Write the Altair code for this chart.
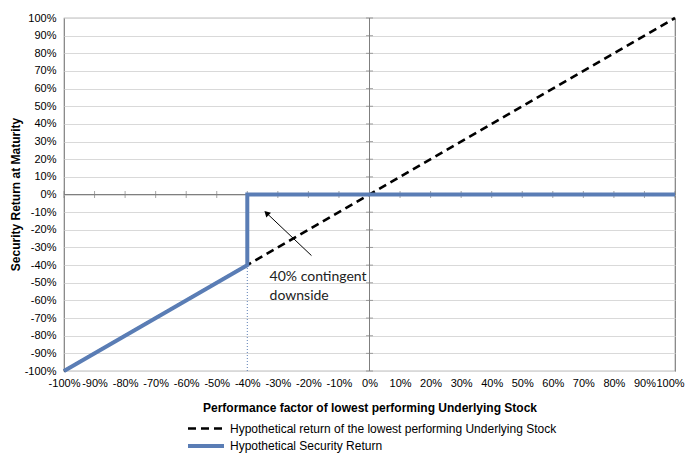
import altair as alt
import pandas as pd

S1 = "Hypothetical return of the lowest performing Underlying Stock"
S2 = "Hypothetical Security Return"

stock_x = [-1.0, 1.0]
stock_y = [-1.0, 1.0]
sec_x = [-1.0, -0.4, -0.4, 1.0]
sec_y = [-1.0, -0.4, 0.0, 0.0]
tick_vals = [-1.0, -0.9, -0.8, -0.7, -0.6, -0.5, -0.4, -0.3, -0.2, -0.1, 0.0,
             0.1, 0.2, 0.3, 0.4, 0.5, 0.6, 0.7, 0.8, 0.9, 1.0]
dotted_x = [-0.4, -0.4]
dotted_y = [-1.0, -0.4]
arrow_x = [-0.19, -0.337]
arrow_y = [-0.346, -0.105]
note_lines = ["40% contingent", "downside"]
note_x = [-0.327, -0.327]
note_y = [-0.47, -0.573]

BLUE = "#5a7db5"
GRAY = "#7f7f7f"
FONT = "Liberation Sans"
LABEL_EXPR = "round(datum.value * 100) + '%'"

lines = pd.DataFrame(
    [{"series": S1, "o": i, "x": a, "y": b} for i, (a, b) in enumerate(zip(stock_x, stock_y))]
    + [{"series": S2, "o": i, "x": a, "y": b} for i, (a, b) in enumerate(zip(sec_x, sec_y))]
)

xs = alt.Scale(domain=[-1, 1], nice=False, zero=False)
ys = alt.Scale(domain=[-1, 1], nice=False, zero=False)

color = alt.Color(
    "series:N",
    scale=alt.Scale(domain=[S1, S2], range=["#000000", BLUE]),
    legend=alt.Legend(
        title=None, orient="none", legendX=122, legendY=400, padding=0,
        symbolType="M-1,0H3", symbolSize=324, symbolStrokeWidth=3.5,
        labelFont=FONT, labelFontSize=12, labelColor="#000000", labelLimit=600,
        labelOffset=22, rowPadding=0, direction="vertical",
    ),
)
dash = alt.StrokeDash(
    "series:N",
    scale=alt.Scale(domain=[S1, S2], range=[[8, 5], [1, 0]]),
    legend=None,
)
width_enc = alt.StrokeWidth(
    "series:N",
    scale=alt.Scale(domain=[S1, S2], range=[2.6, 4]),
    legend=None,
)

x_axis = alt.Axis(
    values=tick_vals, labelExpr=LABEL_EXPR, grid=False, ticks=False, tickSize=0,
    domain=False, labelFont=FONT, labelFontSize=11, labelColor="#000000",
    labelPadding=6, labelFlush=False, labelOverlap=False,
    labelOffset={"condition": {"test": "datum.value >= 1", "value": -5}, "value": 0},
    title="Performance factor of lowest performing Underlying Stock",
    titleFont=FONT, titleFontSize=12, titleFontWeight="bold", titleColor="#000000",
    titlePadding=14,
)
y_axis = alt.Axis(
    values=tick_vals, labelExpr=LABEL_EXPR, grid=True, gridColor="#d9d9d9", gridWidth=1,
    ticks=False, tickSize=0, domain=False, labelFont=FONT, labelFontSize=11,
    labelColor="#000000", labelPadding=8, labelFlush=False, labelOverlap=False,
    title="Security Return at Maturity", titleFont=FONT, titleFontSize=12,
    titleFontWeight="bold", titleColor="#000000",
    titleX=-49, titleY=176, titleBaseline="middle", titleAlign="center", titleAngle=270,
)


def X():
    return alt.X("x:Q", scale=xs, axis=x_axis)


def Y():
    return alt.Y("y:Q", scale=ys, axis=y_axis)


base_lines = alt.Chart(lines)

stock_layer = base_lines.transform_filter(alt.datum.series == S1).mark_line().encode(
    x=X(), y=Y(), color=color, strokeDash=dash, strokeWidth=width_enc, order="o:Q"
)
sec_layer = base_lines.transform_filter(alt.datum.series == S2).mark_line(
    strokeCap="butt", strokeJoin="miter"
).encode(
    x=X(), y=Y(), color=color, strokeDash=dash, strokeWidth=width_enc, order="o:Q"
)

zero_h = alt.Chart(pd.DataFrame({"x": [-1.0], "x2": [1.0], "y": [0.0]})).mark_rule(
    color=GRAY, strokeWidth=1
).encode(x=X(), x2="x2:Q", y=Y())
zero_v = alt.Chart(pd.DataFrame({"y": [-1.0], "y2": [1.0], "x": [0.0]})).mark_rule(
    color=GRAY, strokeWidth=1
).encode(y=Y(), y2="y2:Q", x=X())

ticks_h = alt.Chart(pd.DataFrame({"x": tick_vals, "y": [0.0] * len(tick_vals)})).mark_tick(
    orient="vertical", color=GRAY, size=7, thickness=1
).encode(x=X(), y=Y())
ticks_v = alt.Chart(pd.DataFrame({"y": tick_vals, "x": [0.0] * len(tick_vals)})).mark_tick(
    orient="horizontal", color=GRAY, size=7, thickness=1
).encode(x=X(), y=Y())

dotted = alt.Chart(pd.DataFrame({"x": dotted_x, "y": dotted_y})).mark_line(
    color=BLUE, strokeWidth=1, strokeDash=[1, 2]
).encode(x=X(), y=Y())

arrow_line = alt.Chart(pd.DataFrame({"x": arrow_x, "y": arrow_y})).mark_line(
    color="#000000", strokeWidth=1
).encode(x=X(), y=Y())
arrow_head = alt.Chart(pd.DataFrame({"x": [arrow_x[1]], "y": [arrow_y[1]]})).mark_point(
    shape="triangle-up", filled=True, color="#000000", size=45, angle=314, opacity=1
).encode(x=X(), y=Y())

note = alt.Chart(pd.DataFrame({"x": note_x, "y": note_y, "t": note_lines})).mark_text(
    align="left", baseline="middle", font="Lato", fontSize=14, color="#222222"
).encode(x=X(), y=Y(), text="t:N")

chart = alt.layer(
    stock_layer, zero_h, zero_v, ticks_h, ticks_v, dotted, sec_layer,
    arrow_line, arrow_head, note,
).properties(
    width=611, height=353,
    autosize=alt.AutoSizeParams(type="none"),
    padding={"left": 56, "top": 10, "right": 10, "bottom": 82},
    background="#ffffff",
).configure_view(stroke=GRAY, strokeWidth=1.2)

chart.save("out.html", embed_options={"renderer": "svg", "actions": False})
